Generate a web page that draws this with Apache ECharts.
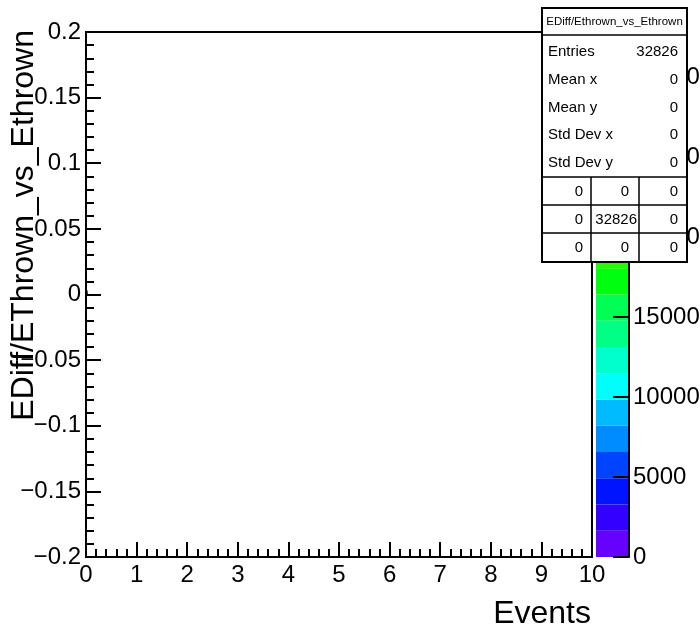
<!DOCTYPE html>
<html><head><meta charset="utf-8">
<script src="https://cdn.jsdelivr.net/npm/echarts@6/dist/echarts.min.js"></script>
<style>html,body{margin:0;padding:0;background:#fff}#c{width:700px;height:629px}</style>
</head><body><div id="c"></div>
<script>
// ---- data ----
const histName = 'EDiff/Ethrown_vs_Ethrown';
const xTitle = 'Events';
const yTitle = 'EDiff/EThrown_vs_Ethrown';
const xRange = [0, 10];
const yRange = [-0.2, 0.2];
const xTickStep = 1;
const yTickStep = 0.05;
const zTickStep = 5000;
const nContours = 20;
const zMax = 32826;
// filled bins
const binXLow = [0];
const binXHigh = [0.04];
const binYLow = [0];
const binYHigh = [0.003];
const binContent = [32826];
// stats box
const statsLabels = ['Entries', 'Mean x', 'Mean y', 'Std Dev x', 'Std Dev y'];
const statsValues = ['32826', '0', '0', '0', '0'];
const statsGrid = [['0', '0', '0'], ['0', '32826', '0'], ['0', '0', '0']];
// ROOT "pretty" palette, one colour per contour level
const palette = ['#6600ff', '#3300ff', '#0014ff', '#0044ff', '#008bff', '#00bbff', '#00fffb', '#00ffcc', '#00ff85', '#00ff55',
                 '#00ff0e', '#22ff00', '#69ff00', '#99ff00', '#e0ff00', '#ffee00', '#ffa700', '#ff7700', '#ff3000', '#ff0000'];

// ---- build ----
const FONT = '"Liberation Sans", Arial, Helvetica, sans-serif';
function levelOf(v) { return Math.max(0, Math.min(nContours - 1, Math.floor(v / zMax * nContours))); }
const cellData = binContent.map((c, i) => [binXLow[i], binXHigh[i], binYLow[i], binYHigh[i], c]);
const bandData = [];
for (let k = 0; k < nContours; k++) bandData.push([0, 1, k * zMax / nContours, (k + 1) * zMax / nContours, k]);

function fmtNum(v) {
  const r = Math.round(v * 1000) / 1000;
  return String(r).replace('-', '\u2212');
}

const chart = echarts.init(document.getElementById('c'), null, { renderer: 'canvas' });
const axisBlack = { color: '#000', width: 2 };
const labelStyle = { color: '#000', fontSize: 24, fontFamily: FONT };

const graphics = [];
// y-axis title
graphics.push({ type: 'text', x: 40, y: 30, rotation: Math.PI / 2, z: 50,
  style: { text: yTitle, font: '32px ' + FONT, textAlign: 'right', textVerticalAlign: 'bottom', fill: '#000' } });
// x-axis title
graphics.push({ type: 'text', x: 591, y: 614, z: 50,
  style: { text: xTitle, font: '32px ' + FONT, textAlign: 'right', textVerticalAlign: 'middle', fill: '#000' } });
// stats box
const sb = { x: 542, y: 8, w: 145, h: 254 };
graphics.push({ type: 'rect', z: 100, shape: { x: sb.x, y: sb.y, width: sb.w, height: sb.h },
  style: { fill: '#fff', stroke: '#000', lineWidth: 2 } });
graphics.push({ type: 'line', z: 101, shape: { x1: sb.x, y1: 35, x2: sb.x + sb.w, y2: 35 }, style: { stroke: '#000', lineWidth: 1.5 } });
graphics.push({ type: 'text', z: 102, x: sb.x + sb.w / 2, y: 22,
  style: { text: histName, font: '11.5px ' + FONT, textAlign: 'center', textVerticalAlign: 'middle', fill: '#000' } });
const rowY = [52, 80, 108, 135, 163];
statsLabels.forEach((t, i) => {
  graphics.push({ type: 'text', z: 102, x: 548, y: rowY[i],
    style: { text: t, font: '15px ' + FONT, textAlign: 'left', textVerticalAlign: 'middle', fill: '#000' } });
  graphics.push({ type: 'text', z: 102, x: 678, y: rowY[i],
    style: { text: statsValues[i], font: '15px ' + FONT, textAlign: 'right', textVerticalAlign: 'middle', fill: '#000' } });
});
const gridLinesY = [177, 205, 233];
gridLinesY.forEach(y => graphics.push({ type: 'line', z: 101, shape: { x1: sb.x, y1: y, x2: sb.x + sb.w, y2: y }, style: { stroke: '#000', lineWidth: 1.5 } }));
[591, 639].forEach(x => graphics.push({ type: 'line', z: 101, shape: { x1: x, y1: 177, x2: x, y2: sb.y + sb.h }, style: { stroke: '#000', lineWidth: 1.5 } }));
const cellRight = [583, 629, 678];
const gridRowY = [192, 220, 248];
statsGrid.forEach((row, r) => row.forEach((t, c) => {
  const xr = t.length > 3 ? (c === 1 ? 637 : cellRight[c]) : cellRight[c];
  graphics.push({ type: 'text', z: 102, x: xr, y: gridRowY[r],
    style: { text: t, font: '15px ' + FONT, textAlign: 'right', textVerticalAlign: 'middle', fill: '#000' } });
}));

const option = {
  animation: false,
  backgroundColor: '#fff',
  grid: [
    { left: 86, top: 32, width: 506, height: 525, show: true, borderColor: '#000', borderWidth: 2, backgroundColor: 'transparent',
      containLabel: false, outerBoundsMode: 'none' },
    { left: 596, top: 32, width: 33, height: 525, show: false, containLabel: false, outerBoundsMode: 'none' }
  ],
  xAxis: [
    { type: 'value', gridIndex: 0, min: xRange[0], max: xRange[1], interval: xTickStep, z: 10,
      axisLine: { show: true, onZero: false, lineStyle: axisBlack },
      axisTick: { show: true, inside: true, length: 15, lineStyle: axisBlack },
      minorTick: { show: true, splitNumber: 5, length: 8, lineStyle: axisBlack },
      splitLine: { show: false }, minorSplitLine: { show: false },
      axisLabel: Object.assign({ margin: 6, formatter: v => fmtNum(v) }, labelStyle) },
    { type: 'value', gridIndex: 1, min: 0, max: 1, show: false }
  ],
  yAxis: [
    { type: 'value', gridIndex: 0, min: yRange[0], max: yRange[1], interval: yTickStep, z: 10,
      axisLine: { show: true, onZero: false, lineStyle: axisBlack },
      axisTick: { show: true, inside: true, length: 15, lineStyle: axisBlack },
      minorTick: { show: true, splitNumber: 5, length: 8, lineStyle: axisBlack },
      splitLine: { show: false }, minorSplitLine: { show: false },
      axisLabel: Object.assign({ margin: 5, formatter: v => fmtNum(v) }, labelStyle) },
    { type: 'value', gridIndex: 1, position: 'right', min: 0, max: zMax, interval: zTickStep, z: 10,
      axisLine: { show: true, onZero: false, lineStyle: axisBlack },
      axisTick: { show: true, inside: true, length: 16, lineStyle: axisBlack },
      splitLine: { show: false },
      axisLabel: Object.assign({ margin: 4, showMaxLabel: false, formatter: v => String(Math.round(v)) }, labelStyle) }
  ],
  series: [
    { type: 'custom', xAxisIndex: 0, yAxisIndex: 0, z: 2, clip: true,
      encode: { x: [0, 1], y: [2, 3] },
      data: cellData,
      renderItem: function (params, api) {
        const p0 = api.coord([api.value(0), api.value(2)]);
        const p1 = api.coord([api.value(1), api.value(3)]);
        return { type: 'rect', shape: { x: p0[0], y: p1[1], width: p1[0] - p0[0], height: p0[1] - p1[1] },
          style: { fill: palette[levelOf(api.value(4))] } };
      } },
    { type: 'custom', xAxisIndex: 1, yAxisIndex: 1, z: 2, clip: true,
      encode: { x: [0, 1], y: [2, 3] },
      data: bandData,
      renderItem: function (params, api) {
        const p0 = api.coord([api.value(0), api.value(2)]);
        const p1 = api.coord([api.value(1), api.value(3)]);
        return { type: 'rect', shape: { x: p0[0], y: p1[1], width: p1[0] - p0[0], height: p0[1] - p1[1] },
          style: { fill: palette[api.value(4)] } };
      } }
  ],
  graphic: graphics
};
chart.setOption(option);
</script>
</body></html>
